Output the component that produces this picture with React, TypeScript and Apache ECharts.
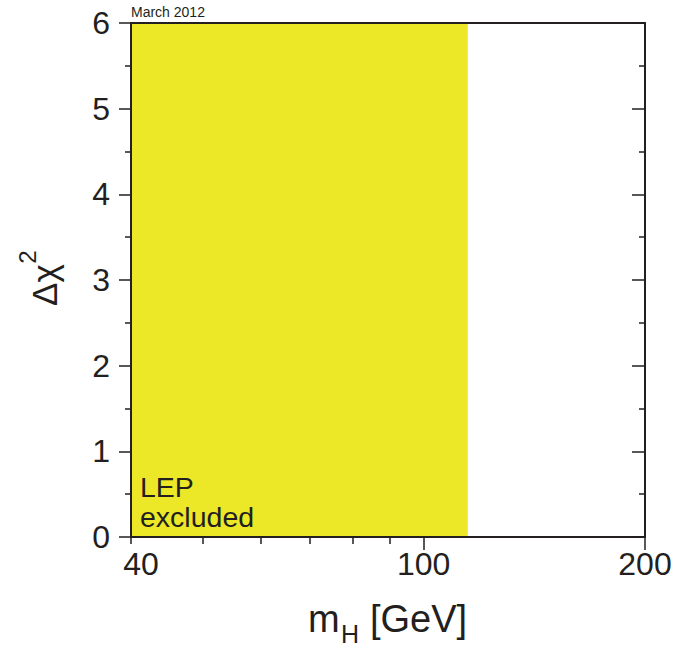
import React, { useEffect, useRef } from "react";
import * as echarts from "echarts";

// ---- data ----
const xRange = [40, 200];
const yRange = [0, 6];
const yInterval = 1;
const xMinorTicks = [40, 50, 60, 70, 80, 90];
const xMajorTicks = [100, 200];
const xTickLabels = [40, 100, 200];
const lepLimit = 114.8; // GeV, LEP excluded region upper edge
const bandTop = 6;
const bandLabel = ["LEP", "excluded"];
const dateLabel = "March 2012";

const lg = (v: number) => Math.log10(v);
const FONT = "'Liberation Sans', Arial, Helvetica, sans-serif";
const INK = "#231f20";
const YELLOW = "#ece828";

export default function App() {
  const ref = useRef<HTMLDivElement>(null);
  useEffect(() => {
    if (!ref.current) return;
    const chart = echarts.init(ref.current, null, { renderer: "svg" });
    const xMin = lg(xRange[0]);
    const xMax = lg(xRange[1]);
    const fmt = (v: number) => {
      const n = Math.round(Math.pow(10, v));
      return n === xTickLabels[0] ? `{first|${n}}` : `${n}`;
    };
    const baseX = {
      type: "value",
      min: xMin,
      max: xMax,
      splitLine: { show: false },
      z: 5,
    };
    const option: any = {
      animation: false,
      grid: { left: 131, right: 32, top: 23, bottom: 111, outerBoundsMode: "none", containLabel: false },
      xAxis: [
        {
          ...baseX,
          position: "bottom",
          axisLine: { show: true, lineStyle: { color: INK, width: 2 } },
          axisTick: {
            show: true,
            length: 7,
            customValues: xMinorTicks.map(lg),
            lineStyle: { color: INK, width: 1.5 },
          },
          axisLabel: {
            show: true,
            customValues: xTickLabels.map(lg),
            formatter: fmt,
            fontSize: 32,
            fontFamily: FONT,
            color: INK,
            margin: 11,
            rich: {
              first: { fontSize: 32, fontFamily: FONT, color: INK, padding: [0, 0, 0, 20] },
            },
          },
        },
        {
          ...baseX,
          position: "bottom",
          axisLine: { show: false },
          axisTick: {
            show: true,
            length: 13,
            customValues: xMajorTicks.map(lg),
            lineStyle: { color: INK, width: 1.5 },
          },
          axisLabel: { show: false },
        },
        {
          ...baseX,
          position: "top",
          axisLine: { show: true, lineStyle: { color: INK, width: 2 } },
          axisTick: { show: false },
          axisLabel: { show: false },
        },
      ],
      yAxis: [
        {
          type: "value",
          position: "left",
          min: yRange[0],
          max: yRange[1],
          interval: yInterval,
          z: 5,
          splitLine: { show: false },
          axisLine: { show: true, lineStyle: { color: INK, width: 2 } },
          axisTick: { show: true, length: 12, lineStyle: { color: INK, width: 1.5 } },
          minorTick: { show: true, splitNumber: 2, length: 6, lineStyle: { color: INK, width: 1.5 } },
          axisLabel: { fontSize: 32, fontFamily: FONT, color: INK, margin: 21 },
        },
        {
          type: "value",
          position: "right",
          min: yRange[0],
          max: yRange[1],
          interval: yInterval,
          z: 5,
          splitLine: { show: false },
          axisLine: { show: true, lineStyle: { color: INK, width: 2 } },
          axisTick: { show: true, inside: true, length: 13, lineStyle: { color: INK, width: 1.5 } },
          minorTick: { show: true, splitNumber: 2, length: 6, lineStyle: { color: INK, width: 1.5 } },
          axisLabel: { show: false },
        },
      ],
      series: [
        {
          type: "line",
          xAxisIndex: 0,
          yAxisIndex: 0,
          data: [
            [lg(xRange[0]), bandTop],
            [lg(lepLimit), bandTop],
          ],
          symbol: "none",
          lineStyle: { width: 0 },
          areaStyle: { color: YELLOW, opacity: 1 },
          z: 2,
        },
      ],
      graphic: [
        {
          type: "text",
          x: 131,
          y: 12,
          z: 20,
          style: { text: dateLabel, fontSize: 14, fontFamily: FONT, fill: INK, textAlign: "left", textVerticalAlign: "middle" },
        },
        {
          type: "text",
          x: 140,
          y: 487,
          z: 20,
          style: { text: bandLabel[0], fontSize: 28.5, fontFamily: FONT, fill: INK, textAlign: "left", textVerticalAlign: "middle" },
        },
        {
          type: "text",
          x: 140,
          y: 517,
          z: 20,
          style: { text: bandLabel[1], fontSize: 28.5, fontFamily: FONT, fill: INK, textAlign: "left", textVerticalAlign: "middle" },
        },
        // x-axis title m_H [GeV]
        {
          type: "text",
          x: 308,
          y: 619,
          z: 20,
          style: { text: "m", fontSize: 38, fontFamily: FONT, fill: INK, textAlign: "left", textVerticalAlign: "middle" },
        },
        {
          type: "text",
          x: 341,
          y: 634,
          z: 20,
          style: { text: "H", fontSize: 25, fontFamily: FONT, fill: INK, textAlign: "left", textVerticalAlign: "middle" },
        },
        {
          type: "text",
          x: 370,
          y: 619,
          z: 20,
          style: { text: "[GeV]", fontSize: 38, fontFamily: FONT, fill: INK, textAlign: "left", textVerticalAlign: "middle" },
        },
        // y-axis title Δχ²
        {
          type: "group",
          x: 44,
          y: 280,
          z: 20,
          rotation: Math.PI / 2,
          children: [
            {
              type: "text",
              x: -5,
              y: 0,
              style: { text: "Δχ", fontSize: 35, fontFamily: FONT, fill: INK, textAlign: "center", textVerticalAlign: "middle" },
            },
            {
              type: "text",
              x: 23,
              y: -17,
              style: { text: "2", fontSize: 24, fontFamily: FONT, fill: INK, textAlign: "center", textVerticalAlign: "middle" },
            },
          ],
        },
      ],
    };
    chart.setOption(option);
    return () => chart.dispose();
  }, []);
  return (
    <div
      ref={ref}
      style={{ position: "fixed", left: 0, top: 0, width: 677, height: 648, background: "#fff" }}
    />
  );
}
